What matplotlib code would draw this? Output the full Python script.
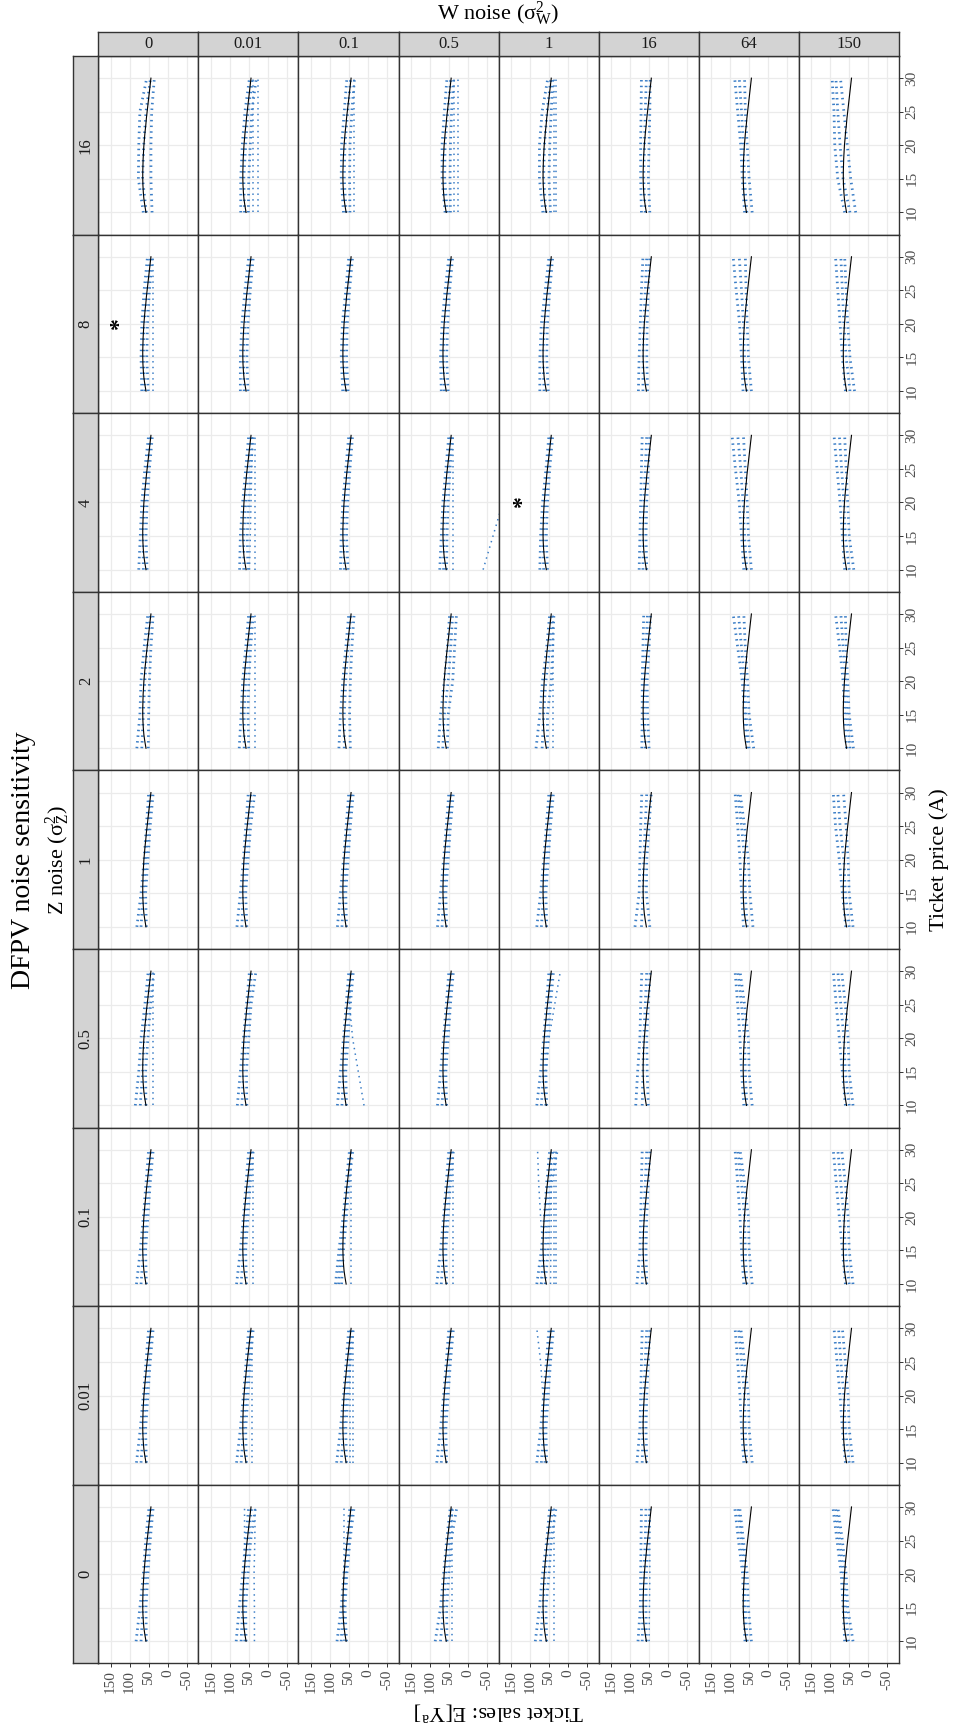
import matplotlib
matplotlib.use('Agg')
import matplotlib.pyplot as plt

plt.rcParams['font.family'] = ['Liberation Serif', 'DejaVu Serif']
plt.rcParams['mathtext.fontset'] = 'custom'
plt.rcParams['mathtext.rm'] = 'Liberation Serif'
plt.rcParams['mathtext.it'] = 'Liberation Serif:italic'
plt.rcParams['axes.unicode_minus'] = False
plt.rcParams['lines.scale_dashes'] = False

# ---------------- data ----------------
z_levels = ['16', '8', '4', '2', '1', '0.5', '0.1', '0.01', '0']
w_levels = ['0', '0.01', '0.1', '0.5', '1', '16', '64', '150']

price = [10, 11, 12, 13, 14, 15, 16, 17, 18, 19, 20, 21, 22, 23, 24, 25, 26, 27, 28, 29, 30]
truth = [57, 60, 62.5, 64, 65, 65.5, 65.5, 65, 64.5, 63.5, 62.5, 61, 59.5, 57.5, 56, 54, 52, 50, 48, 46, 44]

knots = [10, 15, 20, 25, 30]
sales_ticks = [-50, 0, 50, 100, 150]
price_ticks = [10, 15, 20, 25, 30]

# each panel: (upper edge, middle, lower edge of the estimate band, extra single estimate lines)
est_z16 = [
    ([64, 77, 76, 73, 55], [56, 66, 63, 57, 45], [41, 44, 44, 42, 35], []),
    ([71, 71, 67, 60, 48], [61, 63, 58, 52, 40], [51, 50, 46, 42, 30], [[38, 38, 38, 38, 38], [25, 25, 25, 25, 25]]),
    ([64, 70, 69, 62, 55], [57, 62, 60, 53, 45], [47, 48, 47, 42, 35], [[36, 36, 36, 36, 36]]),
    ([60, 68, 68, 62, 55], [54, 61, 60, 53, 45], [46, 47, 46, 43, 37], [[36, 36, 36, 36, 36], [25, 25, 25, 25, 25]]),
    ([66, 75, 75, 68, 53], [58, 64, 62, 55, 45], [46, 50, 48, 44, 40], [[38, 38, 38, 38, 38], [31, 31, 31, 31, 31]]),
    ([70, 72, 72, 71, 70], [60, 64, 62, 60, 57], [48, 52, 50, 48, 47], []),
    ([62, 68, 72, 80, 88], [56, 62, 65, 70, 76], [42, 50, 55, 60, 62], []),
    ([62, 80, 88, 90, 95], [48, 66, 74, 80, 85], [33, 46, 55, 64, 73], []),
]
est_z8 = [
    ([68, 70, 68, 62, 53], [60, 64, 62, 55, 46], [51, 55, 53, 48, 40], [[38, 38, 38, 38, 38]]),
    ([72, 72, 68, 60, 50], [62, 64, 60, 53, 44], [52, 55, 52, 46, 38], []),
    ([66, 70, 67, 58, 50], [58, 64, 61, 54, 45], [52, 56, 54, 48, 40], []),
    ([70, 72, 68, 60, 50], [62, 65, 61, 54, 45], [52, 56, 53, 48, 40], []),
    ([74, 74, 70, 60, 50], [63, 66, 62, 54, 45], [52, 56, 54, 48, 40], []),
    ([78, 76, 73, 70, 66], [66, 66, 64, 60, 56], [54, 56, 55, 52, 48], []),
    ([66, 70, 75, 84, 92], [56, 62, 65, 70, 76], [44, 52, 55, 58, 60], []),
    ([60, 68, 74, 80, 86], [48, 58, 64, 68, 72], [36, 48, 54, 58, 62], []),
]
est_z4 = [
    ([76, 72, 68, 60, 50], [64, 65, 61, 54, 45], [54, 57, 54, 48, 40], []),
    ([74, 72, 66, 58, 50], [63, 63, 58, 52, 44], [52, 54, 50, 45, 38], [[48, 46, 44, 42, 40], [33, 33, 33, 33, 33]]),
    ([72, 70, 66, 58, 50], [62, 64, 60, 53, 45], [52, 56, 53, 47, 40], []),
    ([74, 70, 66, 58, 50], [64, 63, 60, 53, 45], [56, 55, 52, 47, 40], [[38, 38, 38, 38, 38], [-40, -66, -92, -118, -144]]),
    ([74, 72, 67, 58, 50], [64, 65, 61, 54, 45], [54, 57, 54, 48, 40], []),
    ([76, 74, 72, 70, 68], [66, 66, 64, 60, 56], [56, 58, 56, 52, 48], []),
    ([64, 70, 76, 86, 95], [56, 62, 66, 72, 80], [44, 52, 55, 60, 65], []),
    ([62, 68, 74, 82, 90], [50, 60, 64, 70, 76], [38, 50, 54, 58, 62], []),
]
est_z2 = [
    ([81, 73, 70, 62, 52], [68, 64, 60, 54, 45], [51, 50, 48, 44, 38], []),
    ([75, 70, 66, 58, 50], [62, 62, 58, 52, 44], [50, 52, 50, 45, 38], [[34, 34, 34, 34, 34]]),
    ([76, 72, 66, 58, 50], [62, 62, 58, 52, 44], [46, 48, 46, 42, 36], []),
    ([78, 72, 62, 54, 48], [66, 62, 52, 45, 40], [54, 52, 40, 35, 30], []),
    ([84, 74, 67, 56, 48], [68, 64, 58, 48, 43], [54, 54, 44, 40, 37], [[40, 40, 40, 40, 40]]),
    ([69, 68, 68, 66, 64], [60, 62, 62, 58, 54], [50, 54, 55, 50, 46], []),
    ([56, 62, 68, 80, 92], [50, 58, 62, 70, 78], [38, 50, 54, 60, 64], []),
    ([57, 62, 66, 75, 86], [48, 56, 60, 66, 72], [39, 50, 54, 58, 60], []),
]
est_z1 = [
    ([81, 70, 62, 56, 50], [70, 64, 58, 52, 45], [56, 58, 52, 46, 38], []),
    ([81, 72, 64, 58, 51], [68, 65, 58, 52, 43], [55, 58, 52, 45, 34], []),
    ([80, 72, 64, 57, 50], [68, 64, 58, 52, 44], [56, 58, 52, 46, 38], []),
    ([80, 72, 64, 57, 50], [68, 64, 58, 52, 44], [56, 58, 52, 46, 38], []),
    ([82, 72, 64, 57, 50], [70, 64, 58, 52, 44], [56, 58, 52, 46, 38], []),
    ([87, 76, 74, 72, 69], [70, 66, 64, 60, 56], [48, 57, 56, 50, 44], []),
    ([65, 70, 74, 80, 87], [55, 60, 62, 70, 80], [40, 48, 52, 62, 74], []),
    ([59, 68, 76, 86, 92], [50, 60, 64, 74, 80], [40, 50, 53, 58, 65], []),
]
est_z05 = [
    ([85, 76, 70, 60, 51], [72, 66, 62, 53, 45], [57, 58, 52, 45, 36], [[38, 38, 38, 38, 38]]),
    ([80, 72, 64, 56, 48], [68, 64, 58, 50, 42], [55, 56, 50, 44, 31], []),
    ([80, 72, 64, 57, 50], [68, 64, 58, 52, 44], [56, 58, 52, 46, 38], [[10, 25, 40, 48, 46]]),
    ([80, 72, 64, 57, 50], [68, 64, 58, 52, 44], [56, 58, 52, 46, 38], []),
    ([82, 72, 64, 57, 50], [70, 64, 58, 52, 44], [56, 58, 52, 46, 38], [[60, 58, 50, 35, 20]]),
    ([85, 80, 74, 72, 69], [68, 66, 64, 60, 56], [52, 55, 56, 52, 47], []),
    ([64, 70, 74, 80, 87], [56, 60, 62, 70, 80], [42, 50, 52, 62, 74], []),
    ([60, 68, 76, 84, 92], [50, 60, 64, 72, 80], [40, 50, 53, 60, 70], []),
]
est_z01 = [
    ([82, 72, 64, 57, 50], [70, 64, 58, 52, 44], [56, 58, 52, 46, 38], []),
    ([82, 72, 64, 57, 50], [70, 64, 58, 52, 44], [56, 58, 52, 46, 38], [[38, 38, 38, 38, 38]]),
    ([85, 76, 65, 57, 48], [77, 70, 60, 53, 44], [69, 64, 56, 50, 39], [[45, 45, 45, 45, 45]]),
    ([82, 72, 64, 57, 50], [70, 64, 58, 52, 44], [56, 58, 52, 46, 38], [[40, 40, 40, 40, 40]]),
    ([82, 70, 62, 56, 48], [70, 60, 56, 50, 40], [60, 52, 50, 44, 28],
     [[46, 45, 44, 44, 44], [38, 38, 38, 38, 38], [32, 32, 32, 32, 32], [72, 66, 72, 77, 80]]),
    ([82, 74, 72, 70, 68], [68, 66, 64, 60, 56], [56, 58, 56, 52, 48], []),
    ([64, 70, 74, 80, 87], [56, 60, 62, 70, 80], [42, 50, 52, 62, 74], []),
    ([60, 68, 76, 84, 92], [50, 60, 64, 72, 80], [40, 50, 53, 60, 70], []),
]
est_z001 = [
    ([82, 72, 64, 57, 50], [70, 64, 58, 52, 44], [56, 58, 52, 46, 38], []),
    ([82, 72, 64, 57, 50], [70, 64, 58, 52, 44], [56, 58, 52, 46, 38], [[42, 42, 42, 42, 42]]),
    ([82, 72, 64, 57, 50], [70, 64, 58, 52, 44], [56, 58, 52, 46, 38], [[46, 46, 46, 46, 46], [38, 38, 38, 38, 38]]),
    ([82, 72, 64, 57, 50], [70, 64, 58, 52, 44], [56, 58, 52, 46, 38], []),
    ([82, 72, 64, 57, 50], [70, 64, 58, 52, 44], [56, 58, 52, 46, 38], [[62, 64, 66, 72, 82]]),
    ([82, 74, 72, 70, 68], [68, 66, 64, 60, 56], [56, 58, 56, 52, 48], []),
    ([64, 70, 74, 80, 87], [56, 60, 62, 70, 78], [42, 50, 52, 62, 72], []),
    ([60, 68, 74, 82, 90], [50, 60, 64, 72, 78], [40, 50, 53, 60, 68], []),
]
est_z0 = [
    ([83, 73, 64, 58, 49], [70, 65, 58, 52, 44], [56, 57, 52, 46, 38], []),
    ([83, 75, 66, 58, 50], [70, 66, 60, 52, 42], [57, 58, 52, 45, 32], [[35, 35, 36, 34, 33], [62, 62, 62, 61, 61]]),
    ([81, 70, 63, 55, 47], [70, 65, 58, 50, 42], [56, 60, 55, 47, 36], [[62, 62, 62, 62, 62]]),
    ([86, 72, 64, 56, 46], [72, 64, 58, 50, 40], [55, 56, 50, 44, 29], [[42, 42, 42, 42, 42]]),
    ([86, 75, 67, 56, 48], [72, 66, 60, 52, 40], [56, 58, 50, 44, 31], [[37, 37, 37, 37, 37]]),
    ([79, 73, 72, 71, 70], [68, 66, 64, 60, 58], [57, 58, 57, 52, 48], [[50, 49, 48, 48, 47]]),
    ([61, 64, 67, 78, 88], [55, 60, 62, 70, 80], [44, 52, 55, 65, 75], []),
    ([62, 66, 71, 82, 93], [52, 60, 65, 75, 86], [40, 54, 58, 68, 80], []),
]
estimates = [est_z16, est_z8, est_z4, est_z2, est_z1, est_z05, est_z01, est_z001, est_z0]

# panels flagged with an asterisk
flag_z = ['8', '4']
flag_w = ['0', '1']
flag_sales = [141, 134]
flag_price = [20, 20]

# ---------------- layout / style ----------------
FW, FH = 956, 1730
fig = plt.figure(figsize=(FW / 100, FH / 100), dpi=100)
fig.patch.set_facecolor('white')

x0, pw = 98.3, 100.08
y0, ph = 56.0, 178.6
strip_top_y = 31.7
strip_left_x = 73.3

BLUE = '#3A7DC6'
DOT = (0, (1.05, 3.05))
FRAME = '#333333'


def fbox(left, top, w, h):
    return [left / FW, 1 - (top + h) / FH, w / FW, h / FH]


nrow, ncol = len(z_levels), len(w_levels)
for r in range(nrow):
    for c in range(ncol):
        ax = fig.add_axes(fbox(x0 + pw * c, y0 + ph * r, pw, ph))
        ax.set_xlim(182.4, -80.8)
        ax.set_ylim(6.7, 33.3)
        ax.set_xticks(sales_ticks)
        ax.set_yticks(price_ticks)
        ax.grid(True, color='#EBEBEB', lw=0.9)
        ax.set_axisbelow(True)
        for s in ax.spines.values():
            s.set_color(FRAME)
            s.set_linewidth(1.0)
        hi, mid, lo, extras = estimates[r][c]
        for ln in (hi, mid, lo):
            ax.plot(ln, knots, color=BLUE, lw=2.0, ls=DOT, dash_capstyle='butt')
        for ln in extras:
            ax.plot(ln, knots, color=BLUE, lw=1.1, ls=DOT, dash_capstyle='butt')
        ax.plot(truth, price, color='black', lw=0.8)
        for fz, fw_, fs, fp in zip(flag_z, flag_w, flag_sales, flag_price):
            if fz == z_levels[r] and fw_ == w_levels[c]:
                ax.annotate('*', xy=(fs, fp), xytext=(4, 0), textcoords='offset points',
                            rotation=90, fontsize=17, ha='center', va='center',
                            fontweight='bold', color='black')
        ax.tick_params(which='both', length=2.6, width=0.7, color=FRAME,
                       labelcolor='#4D4D4D', labelsize=11)
        if r == nrow - 1:
            ax.tick_params(axis='x', bottom=True, labelbottom=True, labelrotation=90, pad=2)
        else:
            ax.tick_params(axis='x', bottom=False, labelbottom=False)
        if c == ncol - 1:
            ax.yaxis.tick_right()
            ax.tick_params(axis='y', left=False, labelleft=False, right=True,
                           labelright=True, labelrotation=90, pad=2)
            for lab in ax.get_yticklabels():
                lab.set_va('center')
        else:
            ax.tick_params(axis='y', left=False, right=False, labelleft=False, labelright=False)

# strips
for c in range(ncol):
    sa = fig.add_axes(fbox(x0 + pw * c, strip_top_y, pw, y0 - strip_top_y))
    sa.set_facecolor('#D3D3D3')
    sa.set_xticks([]); sa.set_yticks([])
    for s in sa.spines.values():
        s.set_color(FRAME); s.set_linewidth(1.0)
    sa.text(0.5, 0.5, w_levels[c], ha='center', va='center', fontsize=12,
            color='#1A1A1A', transform=sa.transAxes)
for r in range(nrow):
    sa = fig.add_axes(fbox(strip_left_x, y0 + ph * r, x0 - strip_left_x, ph))
    sa.set_facecolor('#D3D3D3')
    sa.set_xticks([]); sa.set_yticks([])
    for s in sa.spines.values():
        s.set_color(FRAME); s.set_linewidth(1.0)
    sa.text(0.5, 0.5, z_levels[r], ha='center', va='center', fontsize=12, rotation=90,
            color='#1A1A1A', transform=sa.transAxes)

cy = 1 - (y0 + ph * nrow / 2) / FH
cx = (x0 + pw * ncol / 2) / FW
fig.text(24 / FW, cy, 'DFPV noise sensitivity', rotation=90, ha='center', va='center', fontsize=20)
fig.text(58 / FW, cy, r'Z noise ($\mathrm{\sigma}^2_\mathrm{Z}$)', rotation=90, ha='center',
         va='center', fontsize=16)
fig.text(cx, 1 - 14 / FH, r'W noise ($\mathrm{\sigma}^2_\mathrm{W}$)', ha='center', va='center', fontsize=16)
fig.text(939 / FW, cy, 'Ticket price (A)', rotation=90, ha='center', va='center', fontsize=16)
fig.text(cx, 1 - 1712 / FH, r'Ticket sales: E[Y$^\mathrm{a}$]', rotation=180, ha='center',
         va='center', fontsize=16)

fig.savefig('out.png', dpi=100, facecolor='white')
